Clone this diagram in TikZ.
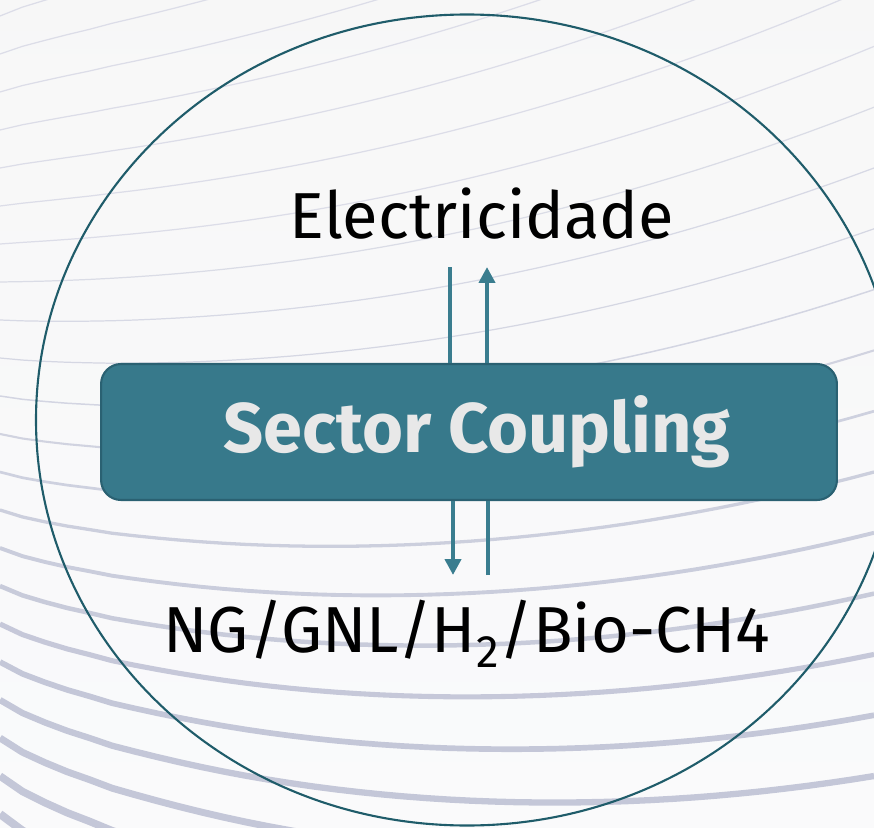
\documentclass[tikz,border=0pt]{standalone}
\usepackage{fontspec}
\setmainfont{Fira Sans}
\usetikzlibrary{arrows.meta}

\definecolor{ringc}{HTML}{1F5C6A}
\definecolor{boxc}{HTML}{37798B}
\definecolor{boxline}{HTML}{2A6172}
\definecolor{flowc}{HTML}{3A7D8F}
\definecolor{wavec}{HTML}{C4C7D8}

\tikzset{
  scbox/.style={draw=boxline,line width=1.2pt,fill=boxc,rounded corners=0.4cm,
    minimum width=14.72cm,minimum height=2.72cm,inner sep=0pt},
  sctext/.style={anchor=base,text=black!9,font=\bfseries\fontsize{40}{48}\selectfont},
  energy/.style={anchor=base,text=black,font=\fontsize{37}{44}\selectfont},
  flow/.style={draw=flowc,line width=2.8pt,line cap=butt},
  wave/.style={line cap=butt}
}

\begin{document}
\begin{tikzpicture}[x=0.02cm,y=-0.02cm,>=Stealth,line join=round]
  \useasboundingbox (0,0) rectangle (874,827);
  % background with the swept lines
  \begin{scope}
    \clip (0,0) rectangle (874,827);
    \shade[top color=white!97!black,bottom color=white!91!wavec] (0,0) rectangle (874,827);
    \foreach \i in {0,...,25} {
      \pgfmathsetmacro\ly{-60+38*\i}
      \pgfmathsetmacro\lw{0.7+max(0,\ly-380)*0.009}
      \pgfmathsetmacro\wc{60+min(40,max(0,\ly-250)*0.1)}
      \draw[wave,line width=\lw pt,color=wavec!\wc!white]
        plot[domain=0:874,samples=40,variable=\t]
        (\t,{\ly+(\ly-290)*0.6*(\t/874)^0.8-170*(\t/874)^2});
    }
  \end{scope}

  % ring
  \draw[ringc,line width=1.2pt] (467,420) ellipse [x radius=431,y radius=405.5];

  % box and labels
  \node[scbox] (sc) at (469,432) {};
  \node[sctext] (sclabel) at (477,452) {Sector Coupling};
  \node[energy] (elec) at (482,238) {Electricidade};
  \node[energy] (gas) at (467,652) {NG/GNL/H\textsubscript{2}/Bio-CH4};

  % flows
  \coordinate (e1) at (450,267);
  \coordinate (e2) at (487,267);
  \coordinate (g1) at (453,575);
  \coordinate (g2) at (488,575);
  \draw[flow] (e1) -- (e1 |- sc.north);
  \draw[flow,-{Triangle[length=9pt,width=9pt]}] (e2 |- sc.north) -- (e2);
  \draw[flow,-{Triangle[length=9pt,width=9pt]}] (g1 |- sc.south) -- (g1);
  \draw[flow] (g2) -- (g2 |- sc.south);
\end{tikzpicture}
\end{document}
